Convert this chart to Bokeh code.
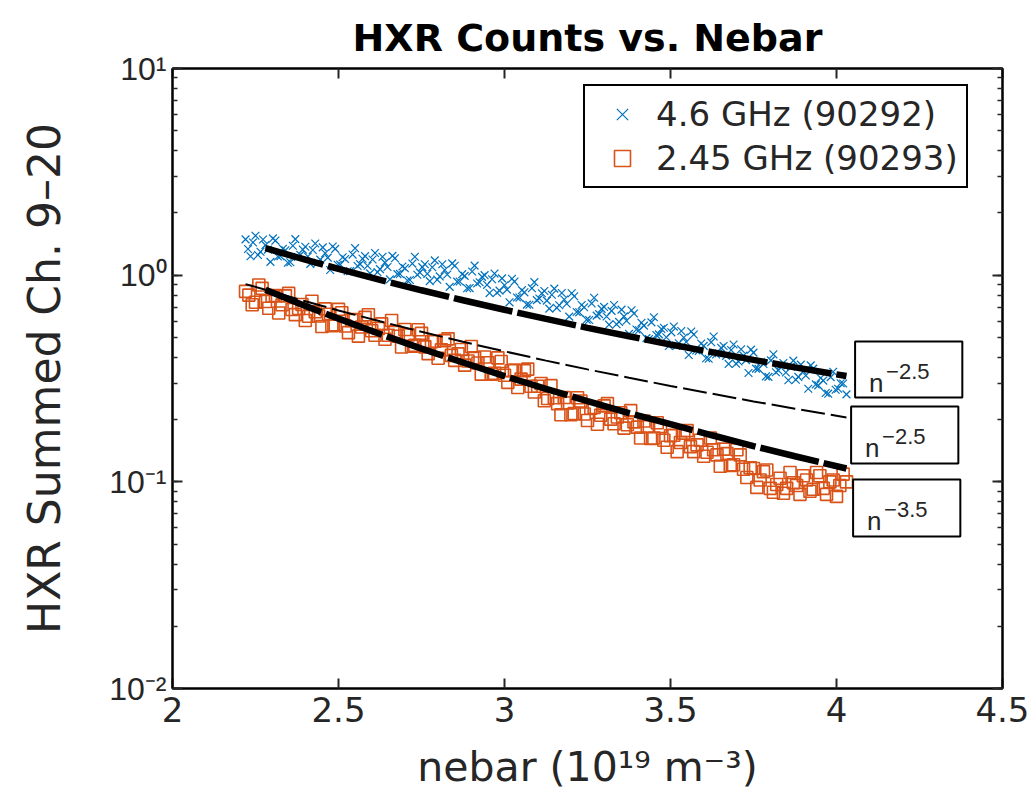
from bokeh.plotting import figure
from bokeh.models import (LogAxis, LinearAxis, Legend, LegendItem, BoxAnnotation, Label,
                          CustomJSTickFormatter, FixedTicker, LogTicker, Range1d)
from bokeh.embed import file_html
from bokeh.resources import INLINE

# ---------------- data ----------------
blue_x = [2.220, 2.235, 2.250, 2.265, 2.280, 2.295, 2.310, 2.325, 2.340, 2.355, 2.370, 2.385,
          2.400, 2.415, 2.430, 2.445, 2.460, 2.475, 2.490, 2.505, 2.520, 2.535, 2.550, 2.565,
          2.580, 2.595, 2.610, 2.625, 2.640, 2.655, 2.670, 2.685, 2.700, 2.715, 2.730, 2.745,
          2.760, 2.775, 2.790, 2.805, 2.820, 2.835, 2.850, 2.865, 2.880, 2.895, 2.910, 2.925,
          2.940, 2.955, 2.970, 2.985, 3.000, 3.015, 3.030, 3.045, 3.060, 3.075, 3.090, 3.105,
          3.120, 3.135, 3.150, 3.165, 3.180, 3.195, 3.210, 3.225, 3.240, 3.255, 3.270, 3.285,
          3.300, 3.315, 3.330, 3.345, 3.360, 3.375, 3.390, 3.405, 3.420, 3.435, 3.450, 3.465,
          3.480, 3.495, 3.510, 3.525, 3.540, 3.555, 3.570, 3.585, 3.600, 3.615, 3.630, 3.645,
          3.660, 3.675, 3.690, 3.705, 3.720, 3.735, 3.750, 3.765, 3.780, 3.795, 3.810, 3.825,
          3.840, 3.855, 3.870, 3.885, 3.900, 3.915, 3.930, 3.945, 3.960, 3.975, 3.990, 4.005,
          4.020, 4.030,
          2.2275, 2.2425, 2.2575, 2.2725, 2.2875, 2.3025, 2.3175, 2.3325, 2.3475, 2.3625,
          2.3775, 2.3925, 2.4075, 2.4225, 2.4375, 2.4525, 2.4675, 2.4825, 2.4975, 2.5125,
          2.5275, 2.5425, 2.5575, 2.5725, 2.5875, 2.6025, 2.6175, 2.6325, 2.6475, 2.6625,
          2.6775, 2.6925, 2.7075, 2.7225, 2.7375, 2.7525, 2.7675, 2.7825, 2.7975, 2.8125,
          2.8275, 2.8425, 2.8575, 2.8725, 2.8875, 2.9025, 2.9175, 2.9325, 2.9475, 2.9625,
          2.9775, 2.9925, 3.0075, 3.0225, 3.0375, 3.0525, 3.0675, 3.0825, 3.0975, 3.1125,
          3.1275, 3.1425, 3.1575, 3.1725, 3.1875, 3.2025, 3.2175, 3.2325, 3.2475, 3.2625,
          3.2775, 3.2925, 3.3075, 3.3225, 3.3375, 3.3525, 3.3675, 3.3825, 3.3975, 3.4125,
          3.4275, 3.4425, 3.4575, 3.4725, 3.4875, 3.5025, 3.5175, 3.5325, 3.5475, 3.5625,
          3.5775, 3.5925, 3.6075, 3.6225, 3.6375, 3.6525, 3.6675, 3.6825, 3.6975, 3.7125,
          3.7275, 3.7425, 3.7575, 3.7725, 3.7875, 3.8025, 3.8175, 3.8325, 3.8475, 3.8625,
          3.8775, 3.8925, 3.9075, 3.9225, 3.9375, 3.9525, 3.9675, 3.9825, 3.9975, 4.0125]
blue_y = [1.490, 1.234, 1.552, 1.298, 1.397, 1.160, 1.470, 1.236, 1.319, 1.154, 1.494, 1.253,
          1.372, 1.134, 1.424, 1.189, 1.277, 1.059, 1.340, 1.125, 1.198, 1.046, 1.351, 1.131,
          1.236, 1.020, 1.281, 1.070, 1.150, 0.954, 1.208, 1.014, 1.081, 0.947, 1.227, 1.031,
          1.130, 0.936, 1.179, 0.986, 1.059, 0.878, 1.110, 0.932, 0.992, 0.866, 1.112, 0.924,
          1.000, 0.819, 1.018, 0.842, 0.894, 0.739, 0.931, 0.779, 0.826, 0.719, 0.925, 0.771,
          0.838, 0.689, 0.861, 0.715, 0.763, 0.630, 0.791, 0.661, 0.699, 0.607, 0.778, 0.648,
          0.702, 0.576, 0.717, 0.594, 0.632, 0.520, 0.652, 0.541, 0.570, 0.491, 0.626, 0.517,
          0.557, 0.454, 0.564, 0.468, 0.499, 0.411, 0.516, 0.430, 0.455, 0.394, 0.505, 0.419,
          0.454, 0.372, 0.462, 0.382, 0.408, 0.336, 0.422, 0.352, 0.372, 0.322, 0.414, 0.346,
          0.376, 0.310, 0.386, 0.322, 0.343, 0.282, 0.353, 0.293, 0.309, 0.267, 0.341, 0.282,
          0.299, 0.265,
          1.339, 1.440, 1.252, 1.487, 1.330, 1.506, 1.231, 1.341, 1.149, 1.388, 1.224, 1.330,
          1.232, 1.323, 1.149, 1.363, 1.216, 1.376, 1.123, 1.221, 1.044, 1.258, 1.107, 1.201,
          1.110, 1.191, 1.034, 1.227, 1.095, 1.240, 1.012, 1.101, 0.942, 1.138, 1.005, 1.094,
          1.015, 1.092, 0.951, 1.130, 1.008, 1.140, 0.930, 1.011, 0.864, 1.041, 0.911, 0.981,
          0.898, 0.956, 0.822, 0.965, 0.851, 0.961, 0.780, 0.846, 0.720, 0.865, 0.757, 0.818,
          0.753, 0.804, 0.695, 0.820, 0.727, 0.818, 0.663, 0.717, 0.609, 0.730, 0.637, 0.687,
          0.631, 0.672, 0.579, 0.681, 0.602, 0.676, 0.546, 0.588, 0.496, 0.591, 0.513, 0.549,
          0.501, 0.529, 0.455, 0.537, 0.475, 0.534, 0.432, 0.467, 0.396, 0.474, 0.413, 0.445,
          0.407, 0.434, 0.373, 0.438, 0.388, 0.436, 0.353, 0.381, 0.324, 0.387, 0.339, 0.367,
          0.338, 0.361, 0.312, 0.369, 0.327, 0.366, 0.296, 0.318, 0.269, 0.321, 0.279, 0.300]

orange_x = [2.22, 2.24, 2.26, 2.28, 2.30, 2.32, 2.34, 2.36, 2.38, 2.40, 2.42, 2.44,
            2.46, 2.48, 2.50, 2.52, 2.54, 2.56, 2.58, 2.60, 2.62, 2.64, 2.66, 2.68,
            2.70, 2.72, 2.74, 2.76, 2.78, 2.80, 2.82, 2.84, 2.86, 2.88, 2.90, 2.92,
            2.94, 2.96, 2.98, 3.00, 3.02, 3.04, 3.06, 3.08, 3.10, 3.12, 3.14, 3.16,
            3.18, 3.20, 3.22, 3.24, 3.26, 3.28, 3.30, 3.32, 3.34, 3.36, 3.38, 3.40,
            3.42, 3.44, 3.46, 3.48, 3.50, 3.52, 3.54, 3.56, 3.58, 3.60, 3.62, 3.64,
            3.66, 3.68, 3.70, 3.72, 3.74, 3.76, 3.78, 3.80, 3.82, 3.84, 3.86, 3.88,
            3.90, 3.92, 3.94, 3.96, 3.98, 4.00, 4.02, 4.03,
            2.23, 2.25, 2.27, 2.29, 2.31, 2.33, 2.35, 2.37, 2.39, 2.41, 2.43, 2.45,
            2.47, 2.49, 2.51, 2.53, 2.55, 2.57, 2.59, 2.61, 2.63, 2.65, 2.67, 2.69,
            2.71, 2.73, 2.75, 2.77, 2.79, 2.81, 2.83, 2.85, 2.87, 2.89, 2.91, 2.93,
            2.95, 2.97, 2.99, 3.01, 3.03, 3.05, 3.07, 3.09, 3.11, 3.13, 3.15, 3.17,
            3.19, 3.21, 3.23, 3.25, 3.27, 3.29, 3.31, 3.33, 3.35, 3.37, 3.39, 3.41,
            3.43, 3.45, 3.47, 3.49, 3.51, 3.53, 3.55, 3.57, 3.59, 3.61, 3.63, 3.65,
            3.67, 3.69, 3.71, 3.73, 3.75, 3.77, 3.79, 3.81, 3.83, 3.85, 3.87, 3.89,
            3.91, 3.93, 3.95, 3.97, 3.99, 4.01]
orange_y = [0.835, 0.719, 0.896, 0.746, 0.793, 0.656, 0.794, 0.682, 0.690, 0.603, 0.748, 0.634,
            0.687, 0.570, 0.683, 0.568, 0.604, 0.507, 0.625, 0.538, 0.552, 0.490, 0.603, 0.506,
            0.546, 0.453, 0.544, 0.450, 0.476, 0.396, 0.482, 0.409, 0.416, 0.367, 0.452, 0.376,
            0.402, 0.332, 0.398, 0.328, 0.345, 0.286, 0.345, 0.290, 0.290, 0.247, 0.292, 0.239,
            0.256, 0.211, 0.255, 0.213, 0.227, 0.190, 0.233, 0.201, 0.206, 0.182, 0.221, 0.184,
            0.197, 0.162, 0.193, 0.159, 0.167, 0.140, 0.172, 0.148, 0.151, 0.133, 0.163, 0.135,
            0.144, 0.120, 0.143, 0.115, 0.117, 0.094, 0.112, 0.093, 0.097, 0.088, 0.111, 0.096,
            0.107, 0.090, 0.111, 0.093, 0.100, 0.085, 0.109, 0.100,
            0.801, 0.739, 0.863, 0.692, 0.796, 0.719, 0.816, 0.644, 0.721, 0.633, 0.665, 0.564,
            0.647, 0.575, 0.658, 0.527, 0.610, 0.561, 0.643, 0.512, 0.581, 0.512, 0.533, 0.449,
            0.514, 0.458, 0.523, 0.417, 0.479, 0.435, 0.492, 0.387, 0.437, 0.384, 0.398, 0.332,
            0.377, 0.335, 0.382, 0.303, 0.347, 0.314, 0.351, 0.272, 0.299, 0.253, 0.255, 0.211,
            0.241, 0.214, 0.246, 0.198, 0.229, 0.210, 0.239, 0.191, 0.216, 0.189, 0.195, 0.163,
            0.185, 0.163, 0.185, 0.147, 0.168, 0.155, 0.177, 0.140, 0.159, 0.139, 0.143, 0.119,
            0.137, 0.121, 0.135, 0.105, 0.116, 0.102, 0.114, 0.089, 0.104, 0.093, 0.099, 0.087,
            0.102, 0.092, 0.107, 0.087, 0.102, 0.096]

fit_x = [2.28, 2.40, 2.50, 2.625, 2.75, 2.875, 3.00, 3.125, 3.25, 3.375, 3.50, 3.625,
         3.75, 3.875, 4.03]
fit_blue = [1.350, 1.188, 1.072, 0.949, 0.845, 0.756, 0.680, 0.614, 0.556, 0.506, 0.462,
            0.424, 0.389, 0.358, 0.325]
fit_orange = [0.850, 0.710, 0.616, 0.519, 0.441, 0.378, 0.325, 0.282, 0.246, 0.215, 0.190,
              0.168, 0.149, 0.133, 0.116]
thin_x = [2.22, 2.28, 2.40, 2.50, 2.625, 2.75, 2.875, 3.00, 3.125, 3.25, 3.375, 3.50, 3.625,
          3.75, 3.875, 4.03]
fit_thin = [0.905, 0.850, 0.748, 0.675, 0.598, 0.532, 0.476, 0.428, 0.386, 0.350, 0.319,
            0.291, 0.267, 0.245, 0.226, 0.205]

x_ticks = [2, 2.5, 3, 3.5, 4, 4.5]
legend_labels = ["4.6 GHz (90292)", "2.45 GHz (90293)"]
fit_exponents = ["\u22122.5", "\u22122.5", "\u22123.5"]

BLUE = "#0072BD"
ORANGE = "#D95319"
FONT = "DejaVu Sans"
INK = "#262626"

p = figure(width=1029, height=809, x_range=Range1d(2, 4.5), y_range=Range1d(0.01, 10),
           y_axis_type="log", output_backend="svg", toolbar_location=None,
           min_border_left=172, min_border_right=27, min_border_top=68, min_border_bottom=121)
p.xgrid.visible = False
p.ygrid.visible = False
p.outline_line_color = "black"
p.outline_line_width = 2
p.background_fill_color = "white"
p.border_fill_color = "white"

p.title.text = "HXR Counts vs. Nebar"
p.title.align = "center"
p.title.text_font = FONT
p.title.text_font_size = "38px"
p.title.text_font_style = "bold"
p.title.text_color = "black"
p.title.standoff = 18

sup_code = """
const m = {'-':'\u207b','0':'\u2070','1':'\u00b9','2':'\u00b2','3':'\u00b3','4':'\u2074',
           '5':'\u2075','6':'\u2076','7':'\u2077','8':'\u2078','9':'\u2079'};
const e = Math.round(Math.log10(tick));
return '10' + String(e).split('').map(c => m[c]).join('');
"""
xfmt = CustomJSTickFormatter(code="return tick.toString();")

def style_axis(ax):
    ax.axis_line_width = 2
    ax.axis_line_color = "black"
    ax.major_tick_in = 10
    ax.major_tick_out = 0
    ax.minor_tick_in = 5
    ax.minor_tick_out = 0
    ax.major_tick_line_width = 2
    ax.minor_tick_line_width = 1.5
    ax.major_tick_line_color = INK
    ax.minor_tick_line_color = INK

xa = p.xaxis[0]
xa.ticker = FixedTicker(ticks=x_ticks, minor_ticks=[])
xa.formatter = xfmt
style_axis(xa)
xa.major_label_text_font = FONT
xa.major_label_text_font_size = "34px"
xa.major_label_text_color = INK
xa.major_label_standoff = 8
xa.axis_label = "nebar (10\u00b9\u2079 m\u207b\u00b3)"
xa.axis_label_text_font = FONT
xa.axis_label_text_font_size = "41px"
xa.axis_label_text_font_style = "normal"
xa.axis_label_text_color = INK
xa.axis_label_standoff = 18

ya = p.yaxis[0]
ya.ticker = LogTicker(num_minor_ticks=10)
ya.formatter = CustomJSTickFormatter(code=sup_code)
style_axis(ya)
ya.major_label_text_font = "Liberation Sans"
ya.major_label_text_font_size = "32px"
ya.major_label_text_color = INK
ya.major_label_standoff = 6
ya.axis_label = "HXR Summed Ch. 9\u201320"
ya.axis_label_text_font = FONT
ya.axis_label_text_font_size = "44px"
ya.axis_label_text_font_style = "normal"
ya.axis_label_text_color = INK
ya.axis_label_standoff = 36

top = LinearAxis(ticker=FixedTicker(ticks=x_ticks, minor_ticks=[]), formatter=xfmt)
style_axis(top)
top.major_label_text_font_size = "2px"
top.major_label_text_color = None
top.major_label_standoff = 0
p.add_layout(top, "above")

right = LogAxis(ticker=LogTicker(num_minor_ticks=10))
style_axis(right)
right.major_label_text_font_size = "2px"
right.major_label_text_color = None
right.major_label_standoff = 0
p.add_layout(right, "right")

rb = p.scatter(blue_x, blue_y, marker="x", size=11, line_color=BLUE, line_width=1.2)
ro = p.scatter(orange_x, orange_y, marker="square", size=12, line_color=ORANGE,
               fill_color=None, line_width=1.6)

p.line(fit_x, fit_blue, line_color="black", line_width=6.5, line_dash="60 5")
p.line(thin_x, fit_thin, line_color="black", line_width=2, line_dash="24 6")
p.line(fit_x, fit_orange, line_color="black", line_width=6.5, line_dash="60 5")

legend = Legend(items=[LegendItem(label=legend_labels[0], renderers=[rb]),
                       LegendItem(label=legend_labels[1], renderers=[ro])],
                location=(411, 500), border_line_color="black", border_line_width=2,
                border_line_alpha=1,
                label_text_font=FONT, label_text_font_size="34px",
                label_text_color=INK,
                glyph_width=58, glyph_height=40, label_height=40, label_standoff=5,
                spacing=4, padding=8, margin=0, background_fill_color="white",
                background_fill_alpha=1)
p.add_layout(legend)

# annotation boxes (left, right, bottom, top) in data space
boxes = [(4.056, 4.379, 0.2561, 0.4779),
         (4.044, 4.367, 0.1227, 0.2316),
         (4.050, 4.373, 0.0544, 0.1027)]
for (l, r, b, t), ex in zip(boxes, fit_exponents):
    p.add_layout(BoxAnnotation(left=l, right=r, bottom=b, top=t, fill_color="white",
                               fill_alpha=1, line_color="black", line_alpha=1,
                               line_width=2))
    p.add_layout(Label(x=l, y=t, x_offset=14, y_offset=-42, text="n",
                       text_font="Liberation Sans", text_font_size="26px",
                       text_color=INK, text_baseline="alphabetic"))
    p.add_layout(Label(x=l, y=t, x_offset=31, y_offset=-30, text=ex,
                       text_font="Liberation Sans", text_font_size="22px",
                       text_color=INK, text_baseline="alphabetic"))

open("out.html", "w").write(file_html(p, INLINE))
